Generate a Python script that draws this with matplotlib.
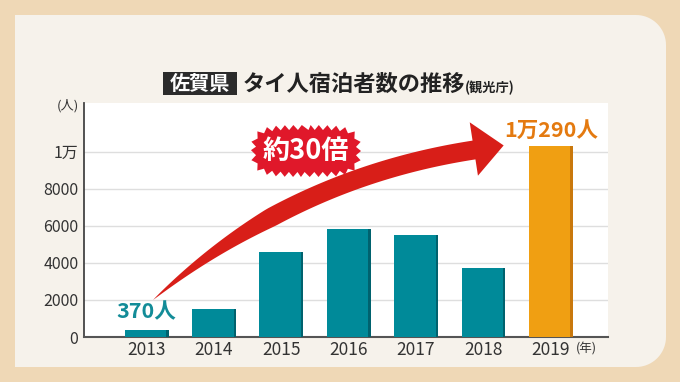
import numpy as np
import matplotlib
matplotlib.use("Agg")
import matplotlib.pyplot as plt
from matplotlib.patches import Polygon, Rectangle

plt.rcParams['font.family'] = ['Noto Sans CJK JP', 'DejaVu Sans']

# ---- data ----
years = ["2013", "2014", "2015", "2016", "2017", "2018", "2019"]
visitors = [370, 1500, 4580, 5830, 5520, 3730, 10290]
ytick_values = [0, 2000, 4000, 6000, 8000, 10000]
ytick_labels = ["0", "2000", "4000", "6000", "8000", "1万"]
bar_colors = ["#008a99"] * 6 + ["#f09f12"]
edge_colors = ["#00626e"] * 6 + ["#c9780c"]

W, H = 680, 382
fig = plt.figure(figsize=(W / 100, H / 100), dpi=100)
fig.patch.set_facecolor("#efd8b6")


def P(px, py):
    return (px / W, 1 - py / H)


# panel with rounded right corners
def rounded_panel(x0, y0, x1, y1, r):
    pts = [(x0, y0), (x1 - r, y0)]
    for a in np.linspace(90, 0, 20):
        pts.append((x1 - r + r * np.cos(np.radians(a)), y0 + r - r * np.sin(np.radians(a))))
    pts.append((x1, y1 - r))
    for a in np.linspace(0, -90, 20):
        pts.append((x1 - r + r * np.cos(np.radians(a)), y1 - r - r * np.sin(np.radians(a))))
    pts.append((x0, y1))
    return [P(*p) for p in pts]


fig.add_artist(Polygon(rounded_panel(15, 15, 666, 367, 30), closed=True,
                       transform=fig.transFigure, facecolor="#f6f2eb",
                       edgecolor="none", zorder=0))

ax = fig.add_axes([84 / W, 1 - 337 / H, (608 - 84) / W, (337 - 103) / H])
ax.set_facecolor("white")
x = np.arange(len(years))
bw = 0.65
ax.bar(x, visitors, width=bw, color=bar_colors, zorder=3)
sw = 0.035
ax.bar(x + bw / 2 - sw / 2, visitors, width=sw, color=edge_colors, zorder=3)

ax.set_xlim(-0.93, 6.85)
ax.set_ylim(0, 12630)
ax.set_yticks(ytick_values)
ax.set_yticklabels(ytick_labels)
ax.set_xticks(x)
ax.set_xticklabels(years)
ax.tick_params(axis="both", length=0, colors="#333333")
ax.tick_params(axis="y", labelsize=11.5, pad=4)
ax.tick_params(axis="x", labelsize=12.5, pad=3)
ax.grid(axis="y", color="#dedede", linewidth=1, zorder=0)
ax.set_axisbelow(True)
for s in ["top", "right"]:
    ax.spines[s].set_visible(False)
ax.spines["left"].set_color("#444444")
ax.spines["left"].set_linewidth(1.3)
ax.spines["bottom"].set_color("#555555")
ax.spines["bottom"].set_linewidth(1.5)

# value labels
ax.annotate(f"{visitors[0]}人", (x[0], visitors[0]), xytext=(0, 6),
            textcoords="offset points", ha="center", va="bottom",
            fontsize=15.5, fontweight="bold", color="#138c98", zorder=5)
v = visitors[-1]
ax.annotate(f"{v // 10000}万{v % 10000}人", (x[-1], v), xytext=(0, 4),
            textcoords="offset points", ha="center", va="bottom",
            fontsize=15.5, fontweight="bold", color="#e47a10", zorder=5)

# unit labels
fig.text(*P(68, 106), "(人)", fontsize=9.5, color="#333333", ha="center", va="center")
fig.text(*P(586, 349), "(年)", fontsize=9, color="#333333", ha="center", va="center")

# title
fig.add_artist(Rectangle(P(163, 95), 74 / W, 23 / H, transform=fig.transFigure,
                         facecolor="#2b2b2b", edgecolor="none"))
fig.text(*P(200, 84), "佐賀県", fontsize=14.5, fontweight="bold", color="white",
         ha="center", va="center")
fig.text(*P(243, 84), "タイ人宿泊者数の推移", fontsize=16, fontweight="bold",
         color="#222222", ha="left", va="center")
fig.text(*P(465, 88), "(観光庁)", fontsize=9.5, fontweight="bold",
         color="#222222", ha="left", va="center")

# curved arrow (pixel space)
P0 = np.array([153.0, 300.0])
P1 = np.array([292.0, 178.0])
P2 = np.array([474.0, 150.0])
t = np.linspace(0, 1, 80)
B = ((1 - t) ** 2)[:, None] * P0 + (2 * (1 - t) * t)[:, None] * P1 + (t ** 2)[:, None] * P2
D = (2 * (1 - t))[:, None] * (P1 - P0) + (2 * t)[:, None] * (P2 - P1)
D = D / np.linalg.norm(D, axis=1)[:, None]
N = np.stack([D[:, 1], -D[:, 0]], axis=1)
w = 19 * np.minimum(1, t / 0.4) ** 0.9
upper = B + N * (w / 2)[:, None]
lower = B - N * (w / 2)[:, None]
d_end = D[-1]
n_end = N[-1]
head_up = P2 + n_end * 28
head_lo = P2 - n_end * 26
tip = P2 + d_end * 30
pts = list(upper) + [head_up, tip, head_lo] + list(lower[::-1])
fig.add_artist(Polygon([P(*p) for p in pts], closed=True, transform=fig.transFigure,
                       facecolor="#d81e18", edgecolor="none", zorder=4))

# starburst badge
cx, cy, a, b = 306, 151, 50, 21
n_sp = 30
M = 2 * n_sp
th = np.linspace(0, 2 * np.pi, 2000)
ex = 4.0
bx = a * np.sign(np.cos(th)) * np.abs(np.cos(th)) ** (2 / ex)
by = b * np.sign(np.sin(th)) * np.abs(np.sin(th)) ** (2 / ex)
seg = np.hypot(np.diff(bx), np.diff(by))
s = np.concatenate([[0], np.cumsum(seg)])
targets = np.linspace(0, s[-1], M, endpoint=False)
badge = []
for i, st in enumerate(targets):
    k = np.searchsorted(s, st)
    k = min(k, len(bx) - 2)
    px_, py_ = bx[k], by[k]
    tx, ty = bx[k + 1] - bx[k], by[k + 1] - by[k]
    nn = np.hypot(tx, ty)
    nx, ny = ty / nn, -tx / nn
    if px_ * nx + py_ * ny < 0:
        nx, ny = -nx, -ny
    off = 5 if i % 2 == 0 else 0
    badge.append(P(cx + px_ + nx * off, cy + py_ + ny * off))
fig.add_artist(Polygon(badge, closed=True, transform=fig.transFigure,
                       facecolor="#e0182a", edgecolor="none", zorder=5))
fig.text(*P(cx, cy), "約30倍", fontsize=19.5, fontweight="bold", color="white",
         ha="center", va="center", zorder=6)

fig.savefig("out.png", dpi=100, facecolor=fig.get_facecolor())
